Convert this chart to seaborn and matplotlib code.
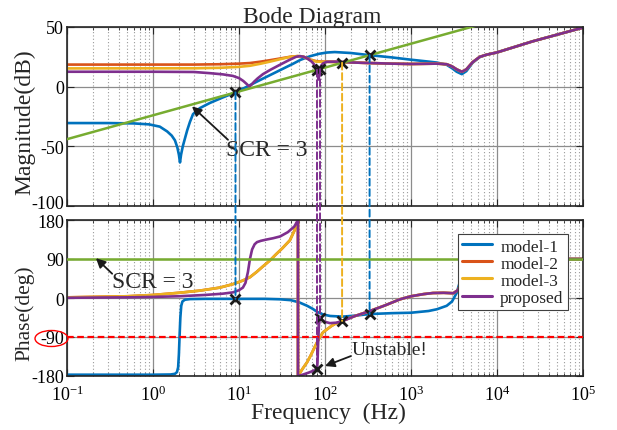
import numpy as np
import matplotlib
matplotlib.use("Agg")
import matplotlib.pyplot as plt
import matplotlib.transforms as mtransforms
import seaborn as sns
from matplotlib.patches import ConnectionPatch, Ellipse
from matplotlib.lines import Line2D
from matplotlib.ticker import FixedLocator, LogFormatterSciNotation, NullFormatter

# ---------------- data ----------------
series_names = ["model-1", "model-2", "model-3", "proposed"]
series_colors = ["#0072BD", "#D95319", "#EDB120", "#7E2F8E"]
scr_color = "#77AC30"

# model-1
m1_mag_f = [0.1, 0.3, 0.6, 0.9, 1.2, 1.46, 1.65, 1.8, 1.92, 2.0, 2.06, 2.12, 2.22, 2.35,
            2.5, 2.69, 2.92, 3.5, 4.6, 6.5, 9.1, 12, 17.5, 25, 33, 42, 52, 67, 85, 105,
            130, 200, 330, 600, 1000, 1600, 2000, 2600, 3000, 3400, 3900, 4400, 5200,
            6300, 7600, 10000, 26000, 100000]
m1_mag = [-30.5, -30.5, -30.8, -31.6, -33.5, -37.5, -41, -45, -51, -57, -63.5, -57, -50,
          -43.5, -36.5, -29.5, -23, -18, -13.6, -9, -4.8, -0.5, 5.5, 11, 15.3, 19, 22.5,
          25.5, 27.5, 28.6, 29, 28.2, 26.4, 24.5, 22.6, 21, 20.2, 18.3, 15.5, 12.5, 10.5,
          13, 20, 24.8, 26.8, 28.7, 38, 49.5]
m1_ph_f = [0.1, 1.0, 1.6, 1.8, 1.9, 1.96, 2.0, 2.04, 2.08, 2.13, 2.2, 2.35, 2.7, 4, 10,
           20, 30, 40, 50, 62, 72, 81, 95, 115, 160, 230, 330, 600, 1000, 1600, 2000,
           2600, 3000, 3400, 3800, 4300, 5000, 7000, 100000]
m1_ph = [-177, -177, -176.5, -175, -171, -160, -130, -85, -45, -18, -8, -4, -2.5, -2, -2,
         -2, -3, -5, -10, -18, -25, -32, -38, -41.5, -43, -40.5, -37, -35, -34, -30, -26,
         -18, -8, 12, 45, 76, 88, 90, 90]

# model-2
m2_mag_f = [0.1, 3, 6, 10, 13.4, 18, 23, 30, 39, 48, 55, 62, 70, 80, 90, 110, 140, 200,
            330, 600, 1000, 2000, 2600, 3000, 3400, 3900, 4400, 5200, 6300, 7600, 10000,
            26000, 100000]
m2_mag = [18.5, 18.5, 18.8, 19.3, 19.8, 21, 22.2, 23.6, 25, 25.6, 25.3, 23.8, 22.3, 21.3,
          21, 21, 20.8, 20.3, 19.8, 19.3, 19.0, 19.3, 18.8, 17, 14.5, 12.5, 14.5, 20.5,
          25, 26.8, 28.7, 38, 49.5]

# model-3
m3_mag_f = [0.1, 3, 6, 10, 13.4, 18, 23, 30, 39, 48, 55, 62, 70, 80, 90, 110, 140, 158,
            200, 330, 600, 1000, 2000, 2600, 3000, 3400, 3900, 4400, 5200, 6300, 7600,
            10000, 26000, 100000]
m3_mag = [15.3, 15.4, 15.8, 16.6, 17.5, 19.3, 21, 23, 24.9, 25.6, 25.3, 23.5, 22, 21,
          20.8, 20.7, 20.3, 20.0, 20.3, 19.8, 19.3, 19.0, 19.3, 18.8, 17, 14.5, 12.5,
          14.5, 20.5, 25, 26.8, 28.7, 38, 49.5]
m3_ph_f = [0.1, 0.5, 1, 2, 3.5, 6, 8.5, 11, 13.4, 16, 19, 23, 27, 32, 39, 44, 48.5, 48.5,
           55, 62, 68, 74, 80, 87.5, 95, 106, 118, 130, 145, 158, 220, 333, 500, 745,
           1000, 1400, 1800, 2400, 3100, 3500, 3800, 4300, 5000, 6000, 8000, 100000]
m3_ph = [1.5, 4, 7, 12, 17, 24, 32, 40, 48, 60, 73, 87, 101, 115, 133, 155, 180, -180,
         -163, -148, -133, -118, -104, -90, -79, -72, -65, -60, -56, -53, -42, -30, -17,
         -3, 4, 9, 11.5, 12, 11, 18, 32, 60, 80, 87, 90, 90]

# proposed
pr_mag_f = [0.1, 1, 3, 4.6, 6.5, 8.5, 10, 11.2, 12.3, 13.2, 14, 15, 16.5, 19, 23, 30,
            38, 46, 51, 57, 64, 70, 75, 78, 80.7, 82.5, 84, 85.5, 87.5, 90, 95, 105, 140,
            200, 330, 600, 1000, 2000, 2600, 3000, 3400, 3900, 4400, 5200, 6300, 7600,
            10000, 26000, 100000]
pr_mag = [12.5, 12.5, 12.3, 11.3, 10.3, 9.0, 7.2, 4.8, 2.2, 0.0, 1.8, 4.2, 7, 10.5, 14,
          18.4, 22.2, 25, 25.6, 25, 23, 21, 18.5, 16.2, 14.1, 9.5, 6, 9, 14.8, 17.5,
          19.5, 20.8, 21, 20.3, 19.8, 19.3, 19.0, 19.3, 18.8, 17, 14.5, 12.5, 14.5, 20.5,
          25, 26.8, 28.7, 38, 49.5]
pr_ph_f = [0.1, 0.5, 1, 2, 4, 6.5, 8.5, 10, 11.1, 11.9, 12.7, 13.4, 14.2, 15.2, 16.2, 18,
           21, 25, 30, 37, 44, 48.5, 48.5, 55, 65, 75, 80.7, 81.8, 83.2, 85, 87.5, 92,
           100, 114, 135, 162, 220, 333, 500, 745, 1000, 1400, 1800, 2400, 3100, 3500,
           3800, 4300, 5000, 6000, 8000, 100000]
pr_ph = [0.5, 1.5, 2.5, 4, 7, 10, 13, 18, 24, 35, 60, 90, 112, 124, 129, 132, 135, 138,
         142, 152, 165, 180, -180, -177, -172, -167, -163, -150, -105, -62, -46, -50,
         -55, -58, -57, -53, -42, -30, -17, -3, 4, 9, 11.5, 12, 11, 18, 32, 60, 80, 87,
         90, 90]

# grid impedance for SCR = 3
scr_f = [0.1, 100000]
scr_mag = [-44, 76]
scr_ph = [90, 90]

# intersections of each model with the grid impedance
cross_f = [9.1, 80.7, 87.5, 158, 330]
cross_mag = [-4.8, 14.1, 14.8, 20.0, 26.4]
cross_ph = [-2, -163, -46, -53, -37]
cross_colors = ["#0072BD", "#7E2F8E", "#7E2F8E", "#EDB120", "#0072BD"]

stability_limit = -90
freq_ticks = [1e-1, 1e0, 1e1, 1e2, 1e3, 1e4, 1e5]
mag_ticks = [-100, -50, 0, 50]
phase_ticks = [-180, -90, 0, 90, 180]

mag_data = [(m1_mag_f, m1_mag), (m2_mag_f, m2_mag), (m3_mag_f, m3_mag), (pr_mag_f, pr_mag)]
# model-2 and model-3 share the same phase response
ph_data = [(m1_ph_f, m1_ph), (m3_ph_f, m3_ph), (m3_ph_f, m3_ph), (pr_ph_f, pr_ph)]

# ---------------- style ----------------
sns.set_theme(style="white")
plt.rcParams.update({
    "font.family": ["Liberation Serif", "DejaVu Serif"],
    "mathtext.fontset": "custom",
    "mathtext.rm": "Liberation Serif",
    "mathtext.it": "Liberation Serif:italic",
    "mathtext.bf": "Liberation Serif:bold",
    "axes.unicode_minus": False,
})

W, H = 617, 431
fig = plt.figure(figsize=(W / 100, H / 100), dpi=100)
ax1 = fig.add_axes([67 / W, 1 - 207 / H, 516 / W, 179 / H])
ax2 = fig.add_axes([67 / W, 1 - 377 / H, 516 / W, 156 / H])

minor_f = [m * 10.0 ** e for e in range(-1, 5) for m in range(2, 10)]

for ax in (ax1, ax2):
    ax.set_xscale("log")
    ax.set_xlim(0.1, 1e5)
    ax.xaxis.set_major_locator(FixedLocator(freq_ticks))
    ax.xaxis.set_major_formatter(LogFormatterSciNotation())
    ax.xaxis.set_minor_locator(FixedLocator(minor_f))
    ax.xaxis.set_minor_formatter(NullFormatter())
    ax.grid(which="major", color="#8c8c8c", lw=0.9, ls="-")
    ax.grid(which="minor", axis="x", color="#9a9a9a", lw=0.8, ls=(0, (1, 2)))
    ax.set_axisbelow(True)
    ax.tick_params(which="both", direction="in", top=True, right=True, bottom=True,
                   left=True, labelsize=13, color="#262626", labelcolor="black")
    ax.tick_params(which="major", length=5, width=0.8)
    ax.tick_params(which="minor", length=2.5, width=0.6)
    ax.tick_params(axis="y", pad=2)
    ax.tick_params(axis="x", pad=6)
    for s in ax.spines.values():
        s.set_color("#262626")
        s.set_linewidth(1.2)

ax1.set_ylim(-100, 50)
ax1.set_yticks(mag_ticks)
ax1.tick_params(labelbottom=False)
ax2.set_ylim(-180, 180)
ax2.set_yticks(phase_ticks)

# lift the lowest magnitude label slightly so it clears the phase axis top label
low_lab = ax1.yaxis.get_major_ticks()[0].label1
low_lab.set_transform(low_lab.get_transform()
                      + mtransforms.ScaledTranslation(0, 3 / 72, fig.dpi_scale_trans))


def draw(ax, f, v, color, lw=1.9, z=2):
    sns.lineplot(x=f, y=v, ax=ax, color=color, lw=lw, sort=False, estimator=None,
                 zorder=z, legend=False)


for (f, v), c in zip(mag_data, series_colors):
    draw(ax1, f, v, c)
for (f, v), c in zip(ph_data, series_colors):
    draw(ax2, f, v, c)
draw(ax1, scr_f, scr_mag, scr_color, lw=1.8, z=3)
draw(ax2, scr_f, scr_ph, scr_color, lw=1.8, z=3)

ax2.axhline(stability_limit, color="red", lw=1.6, ls=(0, (3, 1.6)), zorder=4)

for ax in (ax1, ax2):
    ax.set_xlabel("")
    ax.set_ylabel("")

# dashed links between magnitude and phase intersections
for f, m, p, c in zip(cross_f, cross_mag, cross_ph, cross_colors):
    con = ConnectionPatch(xyA=(f, m), coordsA=ax1.transData, xyB=(f, p),
                          coordsB=ax2.transData, color=c, lw=1.4, ls=(0, (3.5, 1.8)))
    fig.add_artist(con)

ax1.plot(cross_f, cross_mag, ls="none", marker="x", ms=7.5, mew=2, color="k", zorder=6)
ax2.plot(cross_f, cross_ph, ls="none", marker="x", ms=7.5, mew=2, color="k", zorder=6)

arrow_kw = dict(arrowstyle="-|>", color="k", lw=1.3, mutation_scale=14, shrinkA=0, shrinkB=0)
ax1.annotate("", xy=(2.84, -16.5), xytext=(7.45, -44.5), arrowprops=arrow_kw)
ax1.text(7.1, -53, "SCR = 3", fontsize=17, ha="left", va="center")
ax2.annotate("", xy=(0.217, 92), xytext=(0.335, 56), arrowprops=arrow_kw)
ax2.text(0.333, 38, "SCR = 3", fontsize=17, ha="left", va="center")
ax2.annotate("", xy=(100, -157), xytext=(200, -134), arrowprops=arrow_kw)
ax2.text(206, -118, "Unstable!", fontsize=14, ha="left", va="center")

handles = [Line2D([0], [0], color=c, lw=2.2) for c in series_colors]
leg = ax2.legend(handles, series_names, loc="upper right", bbox_to_anchor=(0.971, 0.91),
                 fontsize=12.5, frameon=True, fancybox=False, edgecolor="#404040",
                 framealpha=1, borderpad=0.25, labelspacing=0.05, handlelength=1.7,
                 handletextpad=0.5, borderaxespad=0)
leg.get_frame().set_linewidth(0.8)
leg.set_zorder(10)

fig.add_artist(Ellipse((51.5 / W, 1 - 339.5 / H), 33 / W, 16 / H, transform=fig.transFigure,
                       fill=False, ec="red", lw=1))

fig.text(312 / W, 1 - 23 / H, "Bode Diagram", ha="center", va="baseline", fontsize=17)
fig.text(25 / W, 1 - 122 / H, "Magnitude(dB)", rotation=90, ha="center", va="center",
         fontsize=17)
fig.text(25 / W, 1 - 313.5 / H, "Phase(deg)", rotation=90, ha="center", va="center",
         fontsize=15.5)
fig.text(328.5 / W, 1 - 419 / H, "Frequency  (Hz)", ha="center", va="baseline", fontsize=17)

fig.savefig("out.png", dpi=100)
